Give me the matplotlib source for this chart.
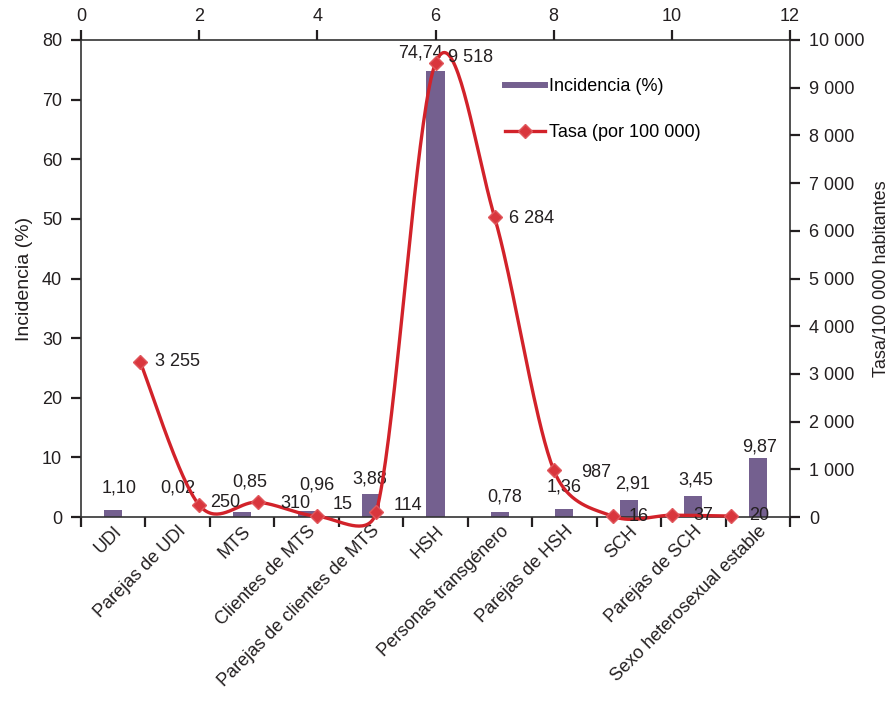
import numpy as np
import matplotlib
matplotlib.use("Agg")
import matplotlib.pyplot as plt
from matplotlib.lines import Line2D

plt.rcParams['font.family'] = ['Liberation Sans', 'DejaVu Sans']

# data
categorias = ['UDI', 'Parejas de UDI', 'MTS', 'Clientes de MTS',
              'Parejas de clientes de MTS', 'HSH', 'Personas transgénero',
              'Parejas de HSH', 'SCH', 'Parejas de SCH',
              'Sexo heterosexual estable']
incidencia = [1.10, 0.02, 0.85, 0.96, 3.88, 74.74, 0.78, 1.36, 2.91, 3.45, 9.87]
tasa_x = [1, 2, 3, 4, 5, 6, 7, 8, 9, 10, 11]
tasa = [3255, 250, 310, 15, 114, 9518, 6284, 987, 16, 37, 20]

# label nudges in pixels (dx, dy up), as placed in the original
bar_lab_off = [(6, 22), (0, 29), (8, 30), (10, 26), (-1, 15), (-15, 18),
               (5, 15), (0, 22), (4, 16), (2, 16), (2, 11)]
line_lab_off = [(15, 0), (11, 3), (22, -1), (15, 12), (17, 6), (13, 5),
                (14, -1), (27, -3), (16, 0), (22, 0), (18, 1)]

BAR = '#74608f'
RED = '#d2222a'
MRK = '#d9363d'
TXT = '#231f20'
FS = 13
PX = 72 / 100  # points per pixel


def fmt_es(v, dec=0):
    if dec:
        return ('%.*f' % (dec, v)).replace('.', ',')
    s = '{:,}'.format(int(round(v)))
    return s.replace(',', ' ')


def smooth(ax, xs, ys, n=40):
    # excel-like smoothed line: bezier, tangent/6, arm capped at half the segment
    P = ax.transData.transform(np.column_stack([xs, ys]))
    m = len(P)
    T = []
    for i in range(m):
        a = P[i - 1] if i > 0 else P[i]
        b = P[i + 1] if i + 1 < m else P[i]
        T.append((b - a) / 6.0)
    out = []
    t = np.linspace(0, 1, n)[:, None]
    for i in range(m - 1):
        p1, p2 = P[i], P[i + 1]
        half = np.hypot(*(p2 - p1)) / 2
        a1, a2 = T[i].copy(), T[i + 1].copy()
        for a in (a1, a2):
            L = np.hypot(*a)
            if L > half:
                a *= half / L
        c1 = p1 + a1
        c2 = p2 - a2
        seg = (1 - t) ** 3 * p1 + 3 * (1 - t) ** 2 * t * c1 + 3 * (1 - t) * t ** 2 * c2 + t ** 3 * p2
        out.append(seg if i == 0 else seg[1:])
    return ax.transData.inverted().transform(np.vstack(out))


fig = plt.figure(figsize=(8.94, 7.01), dpi=100)
rect = [81 / 894, 184 / 701, 709 / 894, 477 / 701]
ax = fig.add_axes(rect)
ax2 = fig.add_axes(rect, frameon=False)

# bars on the category axis
xc = np.arange(len(categorias))
ax.bar(xc, incidencia, width=0.28, color=BAR, zorder=2)
ax.set_xlim(-0.5, len(categorias) - 0.5)
ax.set_ylim(0, 80)
ax.set_yticks(range(0, 81, 10))
ax.set_xticks(xc)
ax.set_xticklabels(categorias, rotation=45, ha='right', rotation_mode='anchor', fontsize=FS, color=TXT)
ax.set_xticks(np.arange(-0.5, len(categorias)), minor=True)
ax.tick_params(axis='x', which='major', length=0, pad=4)
ax.tick_params(axis='x', which='minor', length=7.2, width=1.6, direction='out', color=TXT)
ax.tick_params(axis='y', length=7.2, width=1.6, pad=6.5, direction='out', labelsize=FS, colors=TXT)
ax.set_ylabel('Incidencia (%)', fontsize=14, color=TXT, labelpad=6)
for s in ax.spines.values():
    s.set_color('#333333')
    s.set_linewidth(1.2)

for x, v, (dx, dy) in zip(xc, incidencia, bar_lab_off):
    ax.annotate(fmt_es(v, 2), (x, v), xytext=(dx * PX, dy * PX), textcoords='offset points',
                ha='center', va='center', fontsize=FS, color=TXT)

# line on the secondary axes (top x, right y)
ax2.set_xlim(0, 12)
ax2.set_ylim(0, 10000)
ax2.xaxis.tick_top()
ax2.yaxis.tick_right()
ax2.yaxis.set_label_position('right')
ax2.set_xticks(range(0, 13, 2))
ax2.set_yticks(range(0, 10001, 1000))
ax2.set_yticklabels([fmt_es(v) for v in range(0, 10001, 1000)])
ax2.tick_params(axis='y', length=7.2, width=1.6, pad=6.5, direction='out', labelsize=FS, colors=TXT)
ax2.tick_params(axis='x', length=7.2, width=1.6, pad=3.5, direction='out', labelsize=FS, colors=TXT)
ax2.set_ylabel('Tasa/100 000 habitantes', fontsize=FS, color=TXT, labelpad=6)
ax2.patch.set_visible(False)

curve = smooth(ax2, tasa_x, tasa)
ax2.plot(curve[:, 0], curve[:, 1], color=RED, lw=2.4, clip_on=False, zorder=3)
ax2.plot(tasa_x, tasa, ls='none', marker='D', ms=7.5, mfc=MRK, mec='#e0575c',
         mew=1, clip_on=False, zorder=4)

for x, v, (dx, dy) in zip(tasa_x, tasa, line_lab_off):
    ax2.annotate(fmt_es(v), (x, v), xytext=(dx * PX, dy * PX), textcoords='offset points',
                 ha='left', va='center', fontsize=FS, color=TXT)

handles = [Line2D([], [], color=BAR, lw=4.3),
           Line2D([], [], color=RED, lw=2.4, marker='D', ms=7.5, mfc=MRK, mec='#e0575c')]
ax2.legend(handles, ['Incidencia (%)', 'Tasa (por 100 000)'], loc='upper left',
           bbox_to_anchor=(0.598, 0.92), frameon=False, fontsize=FS,
           handlelength=2.2, handletextpad=0.25, labelspacing=1.6,
           borderpad=0, borderaxespad=0)

fig.savefig('out.png', dpi=100)
